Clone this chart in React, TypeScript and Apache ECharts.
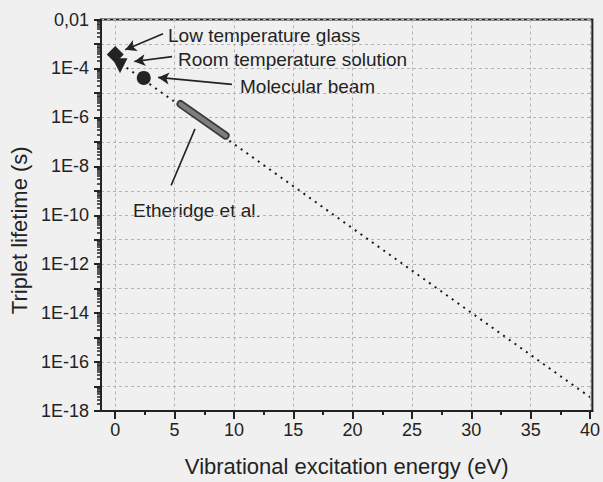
import { useEffect, useRef } from 'react';
import * as echarts from 'echarts';

// Axis structure
const energyTicks = [0, 5, 10, 15, 20, 25, 30, 35, 40];
const energyMinorTicks = [2.5, 7.5, 12.5, 17.5, 22.5, 27.5, 32.5, 37.5];
const lifetimeDecades = [1e-2, 1e-3, 1e-4, 1e-5, 1e-6, 1e-7, 1e-8, 1e-9, 1e-10, 1e-11, 1e-12, 1e-13, 1e-14, 1e-15, 1e-16, 1e-17, 1e-18];
const lifetimeLabels = [1e-2, 1e-4, 1e-6, 1e-8, 1e-10, 1e-12, 1e-14, 1e-16, 1e-18];
const minorMultipliers = [2, 3, 4, 5, 6, 7, 8, 9];

// Measured triplet lifetimes: [energy (eV), lifetime (s)]
const lowTemperatureGlass = [[0, 3.7e-4]];
const roomTemperatureSolution = [[0.4, 1.3e-4]];
const molecularBeam = [[2.4, 4.1e-5]];
const etheridge = [[5.5, 3.5e-6], [9.3, 1.8e-7]];
// Extrapolated energy-gap trend
const trend = [[0, 2.3e-4], [40, 3.7e-18]];

// Annotation arrows in data coordinates: [tail, head, hasHead]
const arrows: [number[], number[], boolean][] = [
  [[4.03, 2.59e-3], [0.84, 5.83e-4], true],
  [[4.79, 3.04e-4], [1.6, 1.91e-4], true],
  [[9.83, 2.24e-5], [3.61, 4.3e-5], true],
  [[4.71, 1.67e-9], [6.72, 3.39e-7], false],
];

const notes = [
  { text: 'Low temperature glass', x: 168, y: 35 },
  { text: 'Room temperature solution', x: 178, y: 59.5 },
  { text: 'Molecular beam', x: 240, y: 86 },
  { text: 'Etheridge et al.', x: 133, y: 210 },
];

const FONT = '"Liberation Sans", Arial, sans-serif';
const INK = '#232323';

const lifetimeMinorTicks: number[] = [];
lifetimeDecades.slice(1).forEach((d) => {
  minorMultipliers.forEach((m) => lifetimeMinorTicks.push(m * d));
});

const formatLifetime = (v: number) => {
  const e = Math.round(Math.log10(v));
  return e === -2 ? '0,01' : `1E${e}`;
};

export default function App() {
  const ref = useRef<HTMLDivElement>(null);

  useEffect(() => {
    if (!ref.current) return;
    const chart = echarts.init(ref.current, undefined, { renderer: 'svg' });

    const xBase = { type: 'value' as const, position: 'bottom' as const, min: -1.2, max: 40.2 };
    const yBase = { type: 'log' as const, logBase: 10, position: 'left' as const, min: 1e-18, max: 1e-2 };

    chart.setOption({
      animation: false,
      backgroundColor: '#f0f0f0',
      textStyle: { fontFamily: FONT },
      grid: {
        left: 101,
        right: 10,
        top: 19.5,
        bottom: 67,
        show: true,
        borderColor: INK,
        borderWidth: 2,
        backgroundColor: 'transparent',
      },
      xAxis: [
        {
          ...xBase,
          axisLine: { show: true, onZero: false, lineStyle: { color: INK, width: 2 } },
          axisTick: { show: true, customValues: energyTicks, length: 8, lineStyle: { color: INK, width: 2 } },
          axisLabel: { customValues: energyTicks, fontSize: 18, color: INK, margin: 10, fontFamily: FONT },
          splitLine: { show: true, lineStyle: { type: [3, 3], color: '#b4b4b4', width: 1 } },
          name: 'Vibrational excitation energy (eV)',
          nameLocation: 'middle',
          nameGap: 44,
          nameTextStyle: { fontSize: 22, color: INK, fontFamily: FONT },
        },
        {
          ...xBase,
          axisLine: { show: false, onZero: false },
          axisTick: { show: true, customValues: energyMinorTicks, length: 4, lineStyle: { color: INK, width: 2 } },
          axisLabel: { show: false },
          splitLine: { show: false },
        },
      ],
      yAxis: [
        {
          ...yBase,
          axisLine: { show: true, onZero: false, lineStyle: { color: INK, width: 2 } },
          axisTick: { show: true, customValues: lifetimeDecades, length: 7, lineStyle: { color: INK, width: 2 } },
          axisLabel: { customValues: lifetimeLabels, formatter: formatLifetime, fontSize: 18, color: INK, margin: 12, fontFamily: FONT },
          splitLine: { show: true, lineStyle: { type: [3, 3], color: '#b4b4b4', width: 1 } },
          minorTick: { show: false },
          name: 'Triplet lifetime (s)',
          nameLocation: 'middle',
          nameGap: 68,
          nameTextStyle: { fontSize: 22, color: INK, fontFamily: FONT, padding: [0, 30, 0, 0] },
        },
        {
          ...yBase,
          axisLine: { show: false, onZero: false },
          axisTick: { show: true, customValues: lifetimeMinorTicks, length: 4, lineStyle: { color: INK, width: 1.5 } },
          axisLabel: { show: false },
          splitLine: { show: false },
        },
      ],
      series: [
        {
          name: 'Trend',
          type: 'line',
          data: trend,
          symbol: 'none',
          silent: true,
          lineStyle: { color: '#1a1a1a', width: 2, type: [2, 5] },
          z: 2,
        },
        {
          name: 'Etheridge et al. outline',
          type: 'line',
          data: etheridge,
          symbol: 'none',
          silent: true,
          lineStyle: { color: '#3a3a3a', width: 8, cap: 'round' },
          z: 3,
        },
        {
          name: 'Etheridge et al.',
          type: 'line',
          data: etheridge,
          symbol: 'none',
          silent: true,
          lineStyle: { color: '#7e7e7e', width: 4.5, cap: 'round' },
          z: 4,
        },
        {
          name: 'Low temperature glass',
          type: 'scatter',
          data: lowTemperatureGlass,
          symbol: 'diamond',
          symbolSize: [17, 17],
          itemStyle: { color: INK, opacity: 1 },
          z: 5,
          markLine: {
            silent: true,
            animation: false,
            symbol: ['none', 'arrow'],
            symbolSize: [9, 11],
            label: { show: false },
            lineStyle: { color: INK, width: 1.6, type: 'solid' },
            data: arrows.map(([tail, head, hasHead]) => [
              { coord: tail, symbol: 'none' },
              { coord: head, symbol: hasHead ? 'arrow' : 'none' },
            ]),
          },
        },
        {
          name: 'Room temperature solution',
          type: 'scatter',
          data: roomTemperatureSolution,
          symbol: 'triangle',
          symbolRotate: 180,
          symbolSize: [15, 15],
          itemStyle: { color: INK, opacity: 1 },
          z: 5,
        },
        {
          name: 'Molecular beam',
          type: 'scatter',
          data: molecularBeam,
          symbol: 'circle',
          symbolSize: 14,
          itemStyle: { color: INK, opacity: 1 },
          z: 5,
        },
      ],
      graphic: notes.map((n) => ({
        type: 'text',
        x: n.x,
        y: n.y,
        silent: true,
        style: {
          text: n.text,
          fill: INK,
          font: `19px ${FONT}`,
          textVerticalAlign: 'middle',
          verticalAlign: 'middle',
        },
      })),
    });

    return () => chart.dispose();
  }, []);

  return <div ref={ref} style={{ position: 'fixed', left: 0, top: 0, width: 603, height: 482 }} />;
}
